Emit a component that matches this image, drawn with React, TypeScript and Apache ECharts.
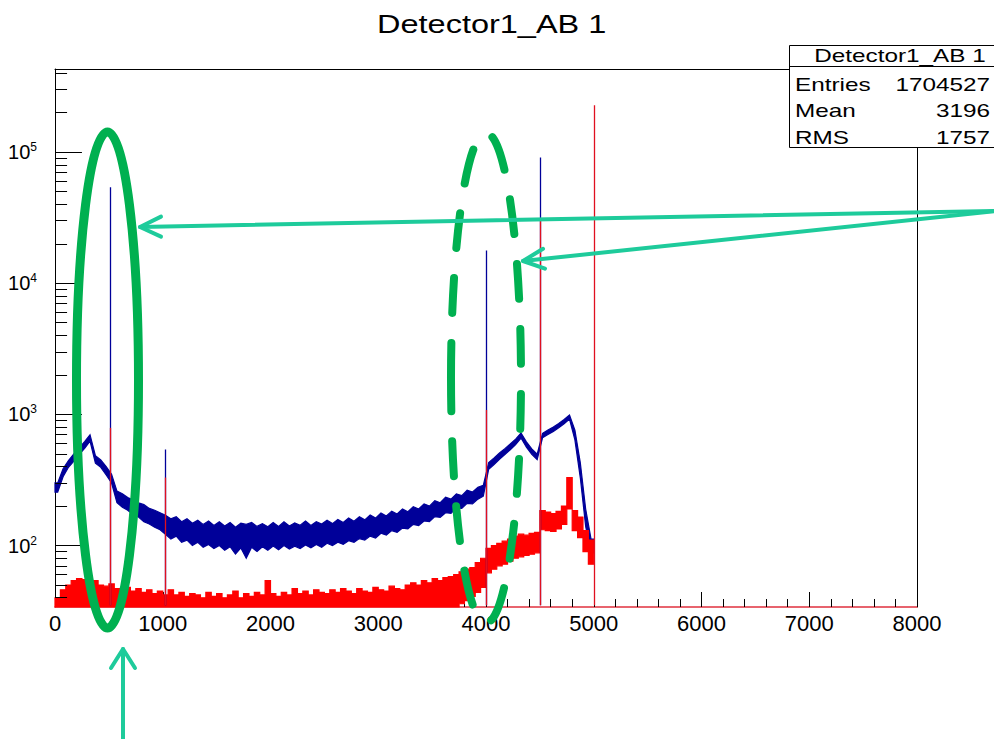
import React, { useEffect, useRef } from 'react';
import * as echarts from 'echarts';

const FONT = "'Liberation Sans', Arial, Helvetica, sans-serif";
const BLUE = '#000099';
const RED = '#ff0000';
const GREEN = '#00B050';
const TEAL = '#1ecb9b';

const TITLE = 'Detector1_AB 1';
const STATS_LABELS = ['Entries', 'Mean', 'RMS'];
const STATS_VALUES = ['1704527', '3196', '1757'];

// histogram bins of 50 channels, 0 .. 5000
const BIN_WIDTH = 50;

const blueUpper = [
  300, 385, 445, 500, 555, 620, 700, 485, 450, 400,
  350, 260, 248, 232, 222, 212, 205, 192, 186, 178,
  170, 160, 166, 152, 160, 148, 156, 145, 154, 142,
  152, 141, 150, 138, 148, 145, 150, 140, 147, 139,
  150, 140, 152, 141, 149, 143, 154, 142, 152, 146,
  156, 147, 158, 150, 162, 153, 166, 157, 171, 162,
  177, 168, 183, 174, 190, 181, 198, 190, 208, 200,
  220, 212, 234, 226, 248, 240, 264, 256, 278, 288,
  430, 466, 508, 548, 595, 648, 720, 618, 545, 498,
  718, 760, 802, 852, 915, 990, 760, 430, 190, 112,
];
const blueLower = [
  255, 335, 395, 440, 495, 550, 625, 425, 395, 345,
  300, 212, 196, 186, 172, 165, 152, 146, 138, 132,
  122, 112, 118, 106, 110, 100, 106, 97, 102, 95,
  100, 92, 98, 86, 96, 80, 97, 90, 98, 92,
  99, 93, 100, 94, 99, 95, 101, 96, 102, 97,
  104, 100, 106, 102, 109, 106, 113, 110, 118, 114,
  124, 120, 130, 126, 136, 134, 145, 142, 154, 152,
  166, 164, 178, 176, 194, 192, 210, 208, 226, 238,
  382, 415, 455, 494, 538, 588, 660, 562, 496, 452,
  664, 702, 742, 790, 848, 920, 640, 330, 140, 88,
];
const redUpper = [
  40, 46, 50, 54, 56, 55, 52, 54, 50, 49,
  51, 47, 46, 48, 45, 47, 44, 46, 43, 45,
  42, 46, 42, 44, 41, 43, 42, 40, 44, 41,
  43, 40, 42, 45, 40, 43, 41, 44, 42, 54,
  43, 41, 44, 42, 47, 43, 45, 42, 46, 44,
  43, 46, 44, 47, 45, 43, 47, 45, 44, 48,
  46, 45, 49, 47, 46, 50, 52, 50, 54, 52,
  56, 54, 57, 58, 60, 63, 66, 68, 74, 80,
  95, 100, 104, 108, 112, 118, 122, 120, 124, 126,
  185, 180, 175, 182, 200, 330, 185, 165, 130, 110,
];
const redLower = [
  20, 20, 20, 20, 20, 20, 20, 20, 20, 20,
  20, 20, 20, 20, 20, 20, 20, 20, 20, 20,
  20, 20, 20, 20, 20, 20, 20, 20, 20, 20,
  20, 20, 20, 20, 20, 20, 20, 20, 20, 20,
  20, 20, 20, 20, 20, 20, 20, 20, 20, 20,
  20, 20, 20, 20, 20, 20, 20, 20, 20, 20,
  20, 20, 20, 20, 20, 20, 20, 20, 20, 20,
  20, 20, 20, 30, 34, 36, 38, 41, 44, 48,
  62, 66, 70, 72, 76, 80, 82, 84, 86, 88,
  132, 130, 128, 134, 145, 190, 130, 115, 90, 72,
];

// single-channel lines
const spikeX = [511, 1022, 4000, 4500, 5000];
const blueSpikePeak = [54000, 540, 17800, 91000, 0];
const redSpikePeak = [790, 330, 1080, 30000, 228000];

const Y_MIN = 34;
const Y_MAX = 430000;
const yMajorTicks = [100, 1000, 10000, 100000];
const yMinorTicks = [
  40, 50, 60, 70, 80, 90,
  200, 300, 400, 500, 600, 700, 800, 900,
  2000, 3000, 4000, 5000, 6000, 7000, 8000, 9000,
  20000, 30000, 40000, 50000, 60000, 70000, 80000, 90000,
  200000, 300000, 400000,
];

const binData = (lo: number[], hi: number[]) =>
  hi.map((h, i) => [i * BIN_WIDTH, (i + 1) * BIN_WIDTH, lo[i], h]);

const blueBins = binData(blueLower, blueUpper);
const redBins = binData(redLower, redUpper);

const SPIKE_BASE = 35;
const blueSpikes = spikeX
  .map((x, i) => (blueSpikePeak[i] > 0 ? [{ coord: [x, SPIKE_BASE] }, { coord: [x, blueSpikePeak[i]] }] : null))
  .filter(Boolean);
const redSpikes = spikeX.map((x, i) => [{ coord: [x, SPIKE_BASE] }, { coord: [x, redSpikePeak[i]] }]);

const MAJOR_LEN = 250; // x-data units (≈27 px)
const MINOR_LEN = 112; // ≈12 px
const tickLines = [
  ...yMajorTicks.map((v) => [{ coord: [0, v] }, { coord: [MAJOR_LEN, v] }]),
  ...yMinorTicks.map((v) => [{ coord: [0, v] }, { coord: [MINOR_LEN, v] }]),
];

const markBase = {
  silent: true,
  symbol: ['none', 'none'],
  label: { show: false },
  emphasis: { disabled: true },
  animation: false,
};

// whole noisy band drawn as one polygon: upper edge forward, lower edge back.
// step = histogram steps per bin; otherwise a line through bin centres.
const bandRenderer = (bins: number[][], color: string, step: boolean) => (params: any, api: any) => {
  if (params.dataIndex !== 0) return null;
  const cs = params.coordSys;
  const top = cs.y;
  const bottom = cs.y + cs.height;
  const cy = (y: number) => Math.min(Math.max(y, top), bottom);
  const n = bins.length;
  const pt = (x: number, v: number) => {
    const p = api.coord([x, v]);
    return [p[0], cy(p[1])];
  };
  const pts: number[][] = [];
  if (step) {
    for (let i = 0; i < n; i++) {
      const [x0, x1, , hi] = bins[i];
      pts.push(pt(x0, hi), pt(x1, hi));
    }
    for (let i = n - 1; i >= 0; i--) {
      const [x0, x1, lo] = bins[i];
      pts.push(pt(x1, lo), pt(x0, lo));
    }
  } else {
    pts.push(pt(bins[0][0], bins[0][3]));
    for (let i = 0; i < n; i++) {
      const [x0, x1, , hi] = bins[i];
      pts.push(pt((x0 + x1) / 2, hi));
    }
    pts.push(pt(bins[n - 1][1], bins[n - 1][3]));
    pts.push(pt(bins[n - 1][1], bins[n - 1][2]));
    for (let i = n - 1; i >= 0; i--) {
      const [x0, x1, lo] = bins[i];
      pts.push(pt((x0 + x1) / 2, lo));
    }
    pts.push(pt(bins[0][0], bins[0][2]));
  }
  return {
    type: 'polygon',
    shape: { points: pts },
    style: { fill: color, stroke: color, lineWidth: 1.2, lineJoin: 'miter' },
  };
};

const markHolder = (name: string, z: number, markLine: any) => ({
  type: 'line',
  name,
  data: [[0, SPIKE_BASE]],
  symbol: 'none',
  silent: true,
  z,
  lineStyle: { opacity: 0 },
  markLine,
});

const txt = (text: string, x: number, y: number, size: number, align: string, scaleX: number, z = 60) => ({
  type: 'text',
  x,
  y,
  scaleX,
  z,
  style: { text, fontSize: size, fontFamily: FONT, fill: '#000', align, verticalAlign: 'middle' },
});

const arrowStyle = { stroke: TEAL, lineWidth: 4, fill: 'none', lineCap: 'round', lineJoin: 'round' };

const option = {
  animation: false,
  backgroundColor: '#ffffff',
  grid: { left: 55, right: 77, top: 69, bottom: 132 },
  xAxis: [
    {
      type: 'value',
      min: 0,
      max: 8000,
      interval: 1000,
      position: 'bottom',
      axisLine: { show: true, onZero: false, lineStyle: { color: '#e0303e', width: 1.5 } },
      axisTick: { show: true, inside: true, length: 15, lineStyle: { color: '#000', width: 1 } },
      minorTick: { show: true, splitNumber: 5, length: 8, lineStyle: { color: '#000', width: 1 } },
      splitLine: { show: false },
      axisLabel: {
        color: '#000',
        fontSize: 22,
        fontFamily: FONT,
        margin: 5,
        formatter: (v: number) => String(v),
      },
    },
    {
      type: 'value',
      min: 0,
      max: 8000,
      position: 'top',
      axisLine: { show: true, onZero: false, lineStyle: { color: '#000', width: 1 } },
      axisTick: { show: false },
      axisLabel: { show: false },
      splitLine: { show: false },
    },
  ],
  yAxis: [
    {
      type: 'log',
      logBase: 10,
      min: Y_MIN,
      max: Y_MAX,
      position: 'left',
      axisLine: { show: true, onZero: false, lineStyle: { color: '#000', width: 1 } },
      axisTick: { show: false },
      minorTick: { show: false },
      splitLine: { show: false },
      axisLabel: {
        margin: 18,
        formatter: (v: number) => {
          const e = Math.log10(v);
          const r = Math.round(e);
          if (Math.abs(e - r) > 1e-6) return '';
          return `{a|10}{b|${r}}`;
        },
        rich: {
          a: { fontSize: 20, fontFamily: FONT, color: '#000', lineHeight: 22 },
          b: { fontSize: 12, fontFamily: FONT, color: '#000', verticalAlign: 'top', lineHeight: 12 },
        },
      },
    },
    {
      type: 'value',
      min: 0,
      max: 1,
      position: 'right',
      axisLine: { show: true, onZero: false, lineStyle: { color: '#000', width: 1 } },
      axisTick: { show: false },
      axisLabel: { show: false },
      splitLine: { show: false },
    },
  ],
  series: [
    {
      type: 'custom',
      name: 'blue',
      data: blueBins,
      encode: { x: [0, 1], y: [2, 3] },
      renderItem: bandRenderer(blueBins, BLUE, false),
      silent: true,
      z: 2,
    },
    {
      type: 'custom',
      name: 'red',
      data: redBins,
      encode: { x: [0, 1], y: [2, 3] },
      renderItem: bandRenderer(redBins, RED, true),
      silent: true,
      z: 3,
    },
    markHolder('ticks', 4, { ...markBase, lineStyle: { color: '#000', width: 1, type: 'solid' }, data: tickLines }),
    markHolder('blue-lines', 4, {
      ...markBase,
      lineStyle: { color: BLUE, width: 1.3, type: 'solid' },
      data: blueSpikes,
    }),
    markHolder('red-lines', 4, {
      ...markBase,
      lineStyle: { color: '#e01020', width: 1.3, type: 'solid' },
      data: redSpikes,
    }),
  ],
  graphic: [
    txt(TITLE, 377, 24, 26, 'left', 1.25),
    // stats box
    {
      type: 'rect',
      z: 50,
      shape: { x: 789.5, y: 45.5, width: 230, height: 102 },
      style: { fill: '#fff', stroke: '#000', lineWidth: 1 },
    },
    { type: 'line', z: 51, shape: { x1: 789.5, y1: 66.5, x2: 1000, y2: 66.5 }, style: { stroke: '#000', lineWidth: 1 } },
    txt(TITLE, 900, 56, 18, 'center', 1.35),
    txt(STATS_LABELS[0], 795, 85, 18, 'left', 1.35),
    txt(STATS_VALUES[0], 990, 85, 18, 'right', 1.35),
    txt(STATS_LABELS[1], 795, 111, 18, 'left', 1.35),
    txt(STATS_VALUES[1], 990, 111, 18, 'right', 1.35),
    txt(STATS_LABELS[2], 795, 138, 18, 'left', 1.35),
    txt(STATS_VALUES[2], 990, 138, 18, 'right', 1.35),
    // annotations
    {
      type: 'ellipse',
      z: 100,
      shape: { cx: 107.5, cy: 380, rx: 31, ry: 248 },
      style: { fill: 'none', stroke: GREEN, lineWidth: 9 },
    },
    {
      type: 'ellipse',
      z: 100,
      shape: { cx: 486, cy: 378, rx: 35, ry: 245 },
      style: { fill: 'none', stroke: GREEN, lineWidth: 8, lineDash: [35, 30], lineCap: 'round' },
    },
    { type: 'line', z: 101, shape: { x1: 996, y1: 211, x2: 140, y2: 227 }, style: arrowStyle },
    { type: 'polyline', z: 101, shape: { points: [[161, 216.6], [140, 227], [161, 236.6]] }, style: arrowStyle },
    { type: 'line', z: 101, shape: { x1: 996, y1: 211, x2: 523, y2: 261 }, style: arrowStyle },
    { type: 'polyline', z: 101, shape: { points: [[543, 248.8], [523, 261], [545, 268.6]] }, style: arrowStyle },
    { type: 'line', z: 101, shape: { x1: 123, y1: 745, x2: 123, y2: 649 }, style: arrowStyle },
    { type: 'polyline', z: 101, shape: { points: [[111, 668], [123, 649], [135, 668]] }, style: arrowStyle },
  ],
};

export default function App() {
  const ref = useRef<HTMLDivElement>(null);
  useEffect(() => {
    const chart = echarts.init(ref.current as HTMLDivElement, null, { renderer: 'svg' });
    chart.setOption(option as any);
    return () => chart.dispose();
  }, []);
  return (
    <div
      ref={ref}
      style={{ position: 'fixed', left: 0, top: 0, width: 994, height: 739, background: '#fff' }}
    />
  );
}
